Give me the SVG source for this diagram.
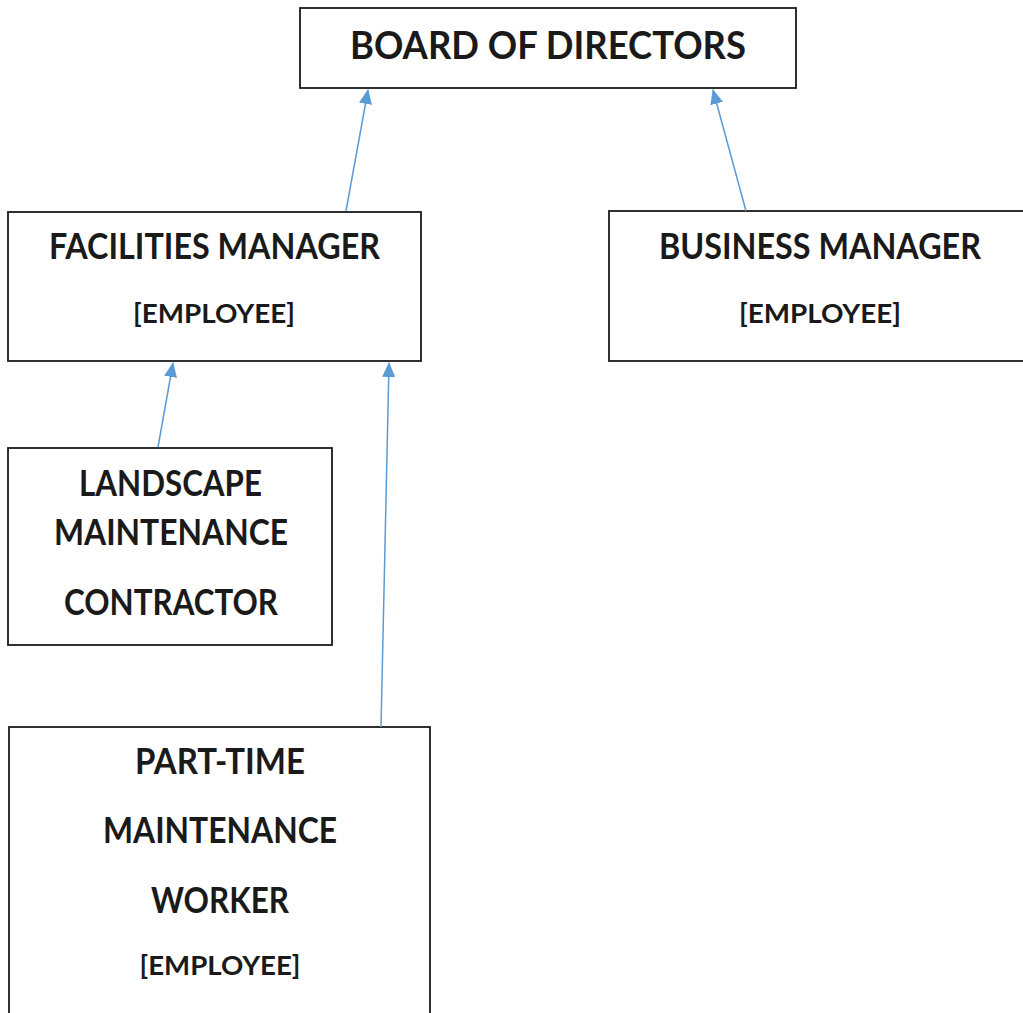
<svg xmlns="http://www.w3.org/2000/svg" width="1023" height="1013" viewBox="0 0 1023 1013">
<style>
.box{fill:#fff;stroke:#1a1a1a;stroke-width:1.8}
.t{font-family:Lato,"Open Sans","Liberation Sans",sans-serif;font-weight:bold;fill:#1a1a1a;text-anchor:middle}
.big{font-size:36px}
.sm{font-size:27px}
.c{stroke:#5b9bd5;stroke-width:1.5;fill:none;marker-end:url(#ah)}
</style>
<defs>
<marker id="ah" viewBox="0 0 15 13" refX="14" refY="6.5" markerWidth="15" markerHeight="13" markerUnits="userSpaceOnUse" orient="auto">
<path d="M0,0 L15,6.5 L0,13 z" fill="#5b9bd5"/>
</marker>
</defs>
<rect width="1023" height="1013" fill="#fff"/>
<g id="board">
<rect class="box" x="300" y="8" width="496" height="80"/>
<text class="t" x="548" y="59" font-size="38" textLength="396" lengthAdjust="spacingAndGlyphs">BOARD OF DIRECTORS</text>
</g>
<g id="facilities">
<rect class="box" x="8" y="212" width="413" height="149"/>
<text class="t big" x="214.5" y="259" textLength="331" lengthAdjust="spacingAndGlyphs">FACILITIES MANAGER</text>
<text class="t sm" x="214" y="323" textLength="162" lengthAdjust="spacingAndGlyphs">[EMPLOYEE]</text>
</g>
<g id="business">
<rect class="box" x="609" y="211" width="424" height="150"/>
<text class="t big" x="820" y="259" textLength="322" lengthAdjust="spacingAndGlyphs">BUSINESS MANAGER</text>
<text class="t sm" x="820" y="323" textLength="162" lengthAdjust="spacingAndGlyphs">[EMPLOYEE]</text>
</g>
<g id="landscape">
<rect class="box" x="8" y="448" width="324" height="197"/>
<text class="t big" x="170.5" y="496" textLength="183" lengthAdjust="spacingAndGlyphs">LANDSCAPE</text>
<text class="t big" x="171" y="545" textLength="234" lengthAdjust="spacingAndGlyphs">MAINTENANCE</text>
<text class="t big" x="171" y="615" textLength="214" lengthAdjust="spacingAndGlyphs">CONTRACTOR</text>
</g>
<g id="parttime">
<rect class="box" x="9" y="727" width="421" height="300"/>
<text class="t big" x="220" y="774" textLength="170" lengthAdjust="spacingAndGlyphs">PART-TIME</text>
<text class="t big" x="220" y="843" textLength="234" lengthAdjust="spacingAndGlyphs">MAINTENANCE</text>
<text class="t big" x="220" y="913" textLength="138" lengthAdjust="spacingAndGlyphs">WORKER</text>
<text class="t sm" x="220" y="975" textLength="161" lengthAdjust="spacingAndGlyphs">[EMPLOYEE]</text>
</g>
<g id="connectors">
<line class="c" x1="346" y1="211" x2="368" y2="90"/>
<line class="c" x1="746" y1="211" x2="713" y2="90"/>
<line class="c" x1="158" y1="447" x2="173" y2="363"/>
<line class="c" x1="381" y1="727" x2="389" y2="363"/>
</g>
</svg>
